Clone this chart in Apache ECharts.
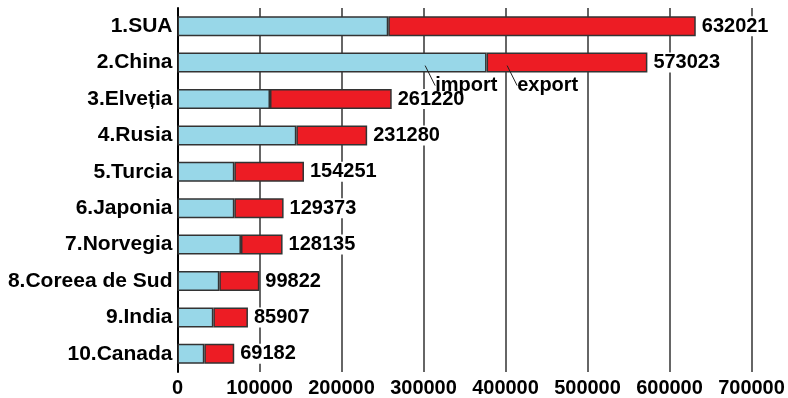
<!DOCTYPE html>
<html>
<head>
<meta charset="utf-8">
<script src="https://cdn.jsdelivr.net/npm/echarts@6/dist/echarts.min.js"></script>
<style>
  html, body { margin: 0; padding: 0; background: #fff; }
  #chart { width: 788px; height: 398px; }
</style>
</head>
<body>
<div id="chart"></div>
<script>
// Top 10 countries: total trade (import + export), split into the two parts
const countries = ['1.SUA', '2.China', '3.Elveția', '4.Rusia', '5.Turcia',
  '6.Japonia', '7.Norvegia', '8.Coreea de Sud', '9.India', '10.Canada'];
const totals = [632021, 573023, 261220, 231280, 154251, 129373, 128135, 99822, 85907, 69182];
const imports = [257000, 376900, 112800, 144900, 69300, 69300, 77400, 51000, 43700, 32700];
const exports = totals.map((t, i) => t - imports[i]);

const xTicks = [0, 100000, 200000, 300000, 400000, 500000, 600000, 700000];

// Callout texts placed on the China bar, anchored at a value along the bar
const calloutCountry = '2.China';
const calloutTexts = ['import', 'export'];
const calloutValues = [302000, 402000];

const FONT = '"Liberation Sans", Arial, sans-serif';
const chart = echarts.init(document.getElementById('chart'));

chart.setOption({
  animation: false,
  backgroundColor: '#fff',
  grid: { left: 177.5, right: 36.5, top: 8, bottom: 22, containLabel: false },
  xAxis: {
    type: 'value',
    min: xTicks[0],
    max: xTicks[xTicks.length - 1],
    interval: xTicks[1] - xTicks[0],
    axisLine: { show: false },
    axisTick: { show: false },
    splitLine: { show: true, lineStyle: { color: '#333', width: 1.5 } },
    axisLabel: {
      color: '#000', fontFamily: FONT, fontWeight: 'bold', fontSize: 20, margin: 6,
      formatter: v => String(v)
    }
  },
  yAxis: {
    type: 'category',
    inverse: true,
    data: countries,
    axisLine: { show: true, lineStyle: { color: '#000', width: 2 } },
    axisTick: { show: false },
    splitLine: { show: false },
    axisLabel: { color: '#000', fontFamily: FONT, fontWeight: 'bold', fontSize: 21, margin: 5 }
  },
  series: [
    {
      name: 'import',
      type: 'bar',
      stack: 'trade',
      data: imports,
      barWidth: 20,
      itemStyle: { color: '#98d7e8', borderColor: '#333', borderWidth: 1.5 },
      z: 3
    },
    {
      name: 'export',
      type: 'bar',
      stack: 'trade',
      data: exports,
      barWidth: 20,
      itemStyle: { color: '#ed1c24', borderColor: '#333', borderWidth: 1.5 },
      z: 3,
      label: {
        show: true,
        position: 'right',
        distance: 5,
        formatter: p => String(totals[p.dataIndex]),
        color: '#000',
        fontFamily: FONT,
        fontWeight: 'bold',
        fontSize: 20,
        backgroundColor: '#fff',
        padding: [0, 1, 0, 1]
      }
    }
  ]
});

// Leader lines and texts for the two parts of the China bar
function drawCallouts() {
  const elements = [];
  calloutTexts.forEach((txt, i) => {
    const p = chart.convertToPixel({ gridIndex: 0 }, [calloutValues[i], calloutCountry]);
    const x0 = p[0], y0 = p[1] + 3;
    const x1 = x0 + 10, y1 = y0 + 20;
    elements.push({
      type: 'line',
      shape: { x1: x0, y1: y0, x2: x1, y2: y1 },
      style: { stroke: '#222', lineWidth: 1 },
      z: 10
    });
    elements.push({
      type: 'text',
      x: x1,
      y: y0 + 20,
      style: {
        text: txt,
        font: 'bold 20px ' + FONT,
        fill: '#000',
        textAlign: 'left',
        textVerticalAlign: 'middle'
      },
      z: 10
    });
  });
  chart.setOption({ graphic: elements });
}
drawCallouts();
</script>
</body>
</html>
